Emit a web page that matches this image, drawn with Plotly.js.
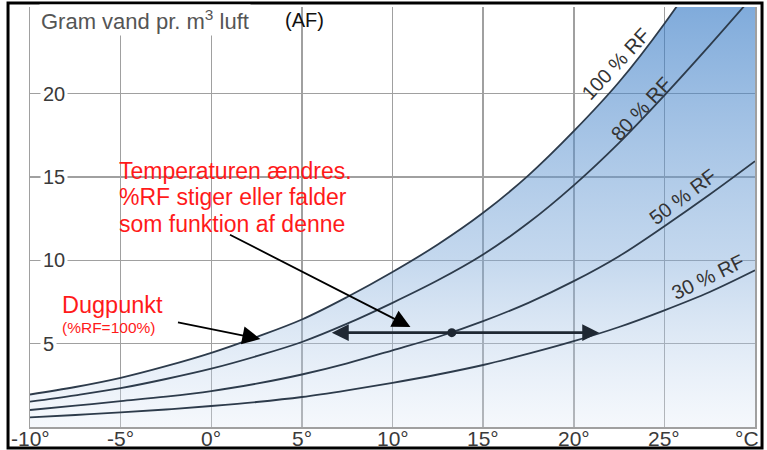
<!DOCTYPE html>
<html>
<head>
<meta charset="utf-8">
<script src="https://cdn.plot.ly/plotly-3.0.1.min.js"></script>
<style>html,body{margin:0;padding:0;background:#fff;}#chart{width:767px;height:450px;}</style>
</head>
<body>
<div id="chart"></div>
<script>
// Temperature (°C)
const temps = [-10, -7.5, -5, -2.5, 0, 2.5, 5, 7.5, 10, 12.5, 15, 17.5, 20, 22.5, 25, 27.5, 30];
// Gram water per m3 air at relative humidity
const rf100 = [1.95, 2.4, 2.95, 3.65, 4.45, 5.4, 6.45, 7.8, 9.3, 10.95, 12.85, 15.1, 17.75, 20.7, 24.2, 28.2, 33.0];
const rf80  = [1.52, 1.9, 2.33, 2.88, 3.5, 4.25, 5.1, 6.2, 7.45, 8.8, 10.35, 12.25, 14.5, 17.05, 19.9, 22.9, 26.0];
const rf50  = [1.02, 1.28, 1.55, 1.82, 2.15, 2.6, 3.15, 3.82, 4.6, 5.4, 6.35, 7.45, 8.75, 10.25, 12.05, 13.95, 15.95];
const rf30  = [0.58, 0.72, 0.88, 1.05, 1.26, 1.5, 1.8, 2.2, 2.65, 3.15, 3.72, 4.4, 5.15, 6.0, 7.0, 8.1, 9.4];

const xTickVals = [-10, -5, 0, 5, 10, 15, 20, 25];
const xTickText = ['-10°', '-5°', '0°', '5°', '10°', '15°', '20°', '25°'];
const xUnitText = '°C';
const yTickVals = [5, 10, 15, 20];

const curveLabels = ['100 % RF', '80 % RF', '50 % RF', '30 % RF'];
const curveLabelX = [22.3, 23.7, 26.0, 27.4];
const curveLabelY = [21.8, 19.1, 13.8, 9.0];
const curveLabelAngle = [-47, -47, -37, -26];

// Example state point and its horizontal temperature change
const pointT = 13.27, pointAF = 5.66;
const arrowFromT = 6.57, arrowToT = 21.4;

const FONT = 'Liberation Sans, Arial, sans-serif';
const lineColor = '#2d3b4b';
const lineStyle = {color: lineColor, width: 1.8, shape: 'spline', smoothing: 1};

const traces = [
  {x: temps, y: rf100, mode: 'lines', line: lineStyle, fill: 'tozeroy',
   fillgradient: {type: 'vertical', start: 0, stop: 25.2,
     colorscale: [[0, 'rgba(222,232,245,0.3)'], [0.4, 'rgba(124,168,217,0.45)'], [1, 'rgba(43,115,195,0.6)']]},
   hoverinfo: 'skip'},
  {x: temps, y: rf80, mode: 'lines', line: lineStyle, hoverinfo: 'skip'},
  {x: temps, y: rf50, mode: 'lines', line: lineStyle, hoverinfo: 'skip'},
  {x: temps, y: rf30, mode: 'lines', line: lineStyle, hoverinfo: 'skip'},
  {x: [pointT], y: [pointAF], mode: 'markers', marker: {size: 9, color: '#1f2833'}, hoverinfo: 'skip'}
];

const red = '#ff1a1a';
const annotations = [];
// x tick labels under the plot
xTickVals.forEach((v, i) => annotations.push({xref: 'x', yref: 'paper', x: v, y: -0.027, xanchor: 'center', yanchor: 'middle',
  text: xTickText[i], showarrow: false, font: {family: FONT, size: 21, color: '#3a3a3a'}}));
annotations.push({xref: 'paper', yref: 'paper', x: 1.008, y: -0.027, xanchor: 'right', yanchor: 'middle',
  text: xUnitText, showarrow: false, font: {family: FONT, size: 21, color: '#3a3a3a'}});
// y tick labels inside the plot
yTickVals.forEach(v => annotations.push({xref: 'paper', yref: 'y', x: 0.0138, y: v, xanchor: 'left', yanchor: 'middle',
  text: String(v), showarrow: false, bgcolor: '#ffffff', borderpad: 2,
  font: {family: FONT, size: 20, color: '#3a3a3a'}}));
// curve labels
curveLabels.forEach((t, i) => annotations.push({x: curveLabelX[i], y: curveLabelY[i], text: t, textangle: curveLabelAngle[i],
  showarrow: false, font: {family: FONT, size: 20, color: '#333333'}}));
// axis title
annotations.push({xref: 'paper', yref: 'paper', x: 0.0125, y: 0.969, xanchor: 'left', yanchor: 'middle',
  text: 'Gram vand pr. m<sup>3</sup> luft', showarrow: false, bgcolor: '#ffffff',
  font: {family: FONT, size: 22, color: '#555555'}});
annotations.push({xref: 'paper', yref: 'paper', x: 0.349, y: 0.969, xanchor: 'left', yanchor: 'middle',
  text: '(AF)', showarrow: false, font: {family: FONT, size: 20, color: '#111111'}});
// red explanatory texts
const bigText = ['Temperaturen ændres.', '%RF stiger eller falder', 'som funktion af denne'];
const bigTextY = [15.36, 13.8, 12.2];
bigText.forEach((t, i) => annotations.push({x: -5.2, y: bigTextY[i], xanchor: 'left', yanchor: 'middle', text: t,
  showarrow: false, font: {family: FONT, size: 23, color: red}}));
annotations.push({x: -8.35, y: 7.32, xanchor: 'left', yanchor: 'middle', text: 'Dugpunkt', showarrow: false,
  font: {family: FONT, size: 23.5, color: red}});
annotations.push({x: -8.35, y: 6.0, xanchor: 'left', yanchor: 'middle', text: '(%RF=100%)', showarrow: false,
  font: {family: FONT, size: 15.5, color: red}});
// arrows
annotations.push({x: arrowToT, y: pointAF, ax: arrowFromT, ay: pointAF, axref: 'x', ayref: 'y', text: '',
  showarrow: true, arrowside: 'end+start', arrowhead: 2, arrowsize: 1.3, arrowwidth: 2.6, arrowcolor: '#1f2833', standoff: 0, startstandoff: 0});
annotations.push({x: 10.99, y: 6.0, ax: 0.95, ay: 11.58, axref: 'x', ayref: 'y', text: '',
  showarrow: true, arrowhead: 2, arrowsize: 2, arrowwidth: 1.8, arrowcolor: '#000000', standoff: 0});
annotations.push({x: 2.71, y: 5.28, ax: -1.92, ay: 6.3, axref: 'x', ayref: 'y', text: '',
  showarrow: true, arrowhead: 2, arrowsize: 2, arrowwidth: 1.8, arrowcolor: '#000000', standoff: 0});

const layout = {
  width: 767, height: 450,
  margin: {l: 30, r: 12, t: 7, b: 23, pad: 0},
  paper_bgcolor: '#ffffff', plot_bgcolor: '#ffffff',
  showlegend: false,
  xaxis: {range: [-10, 30], tickvals: xTickVals, showticklabels: false, showgrid: true, gridcolor: '#a0a0a0', gridwidth: 1.5,
    zeroline: false, showline: true, linecolor: '#a0a0a0', linewidth: 1.5, ticks: '', fixedrange: true},
  yaxis: {range: [0, 25.2], tickvals: yTickVals, showticklabels: false, showgrid: true, gridcolor: '#a0a0a0', gridwidth: 1.5,
    zeroline: false, showline: true, mirror: true, linecolor: '#a0a0a0', linewidth: 1.5, ticks: '', fixedrange: true},
  annotations: annotations,
  shapes: [{type: 'rect', xref: 'paper', yref: 'paper', x0: -0.0303, x1: 1.0097, y0: -0.05, y1: 1.0095,
    line: {color: '#000000', width: 3}, layer: 'above'}]
};

Plotly.newPlot('chart', traces, layout, {staticPlot: true, displayModeBar: false});
</script>
</body>
</html>
